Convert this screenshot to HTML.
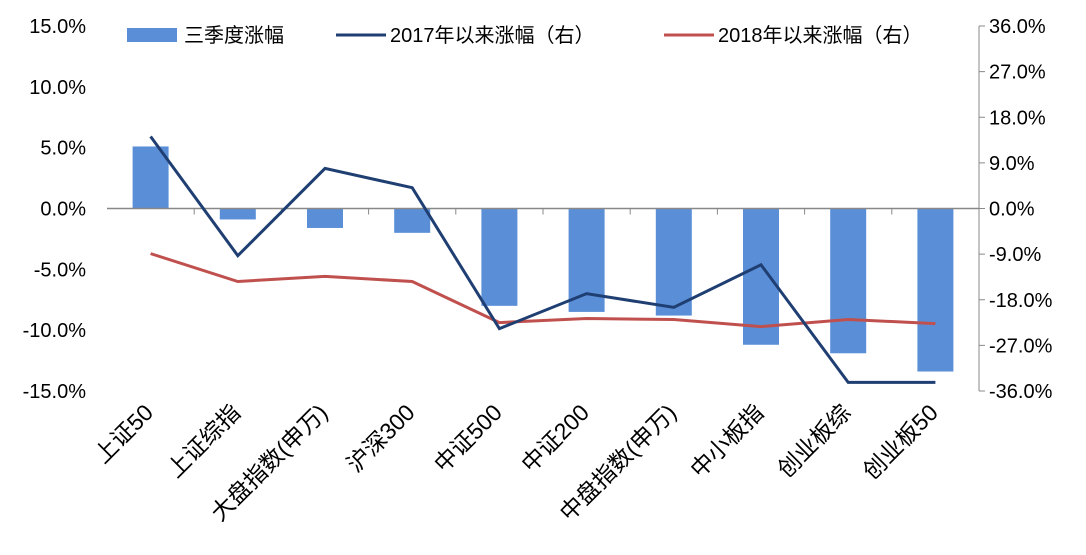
<!DOCTYPE html>
<html><head><meta charset="utf-8"><style>
body{margin:0;background:#fff;}
svg{display:block;font-family:"Liberation Sans","Noto Sans CJK SC",sans-serif;}
</style></head><body>
<svg id="chart" width="1086" height="555"></svg>
<script>
const categories=["上证50","上证综指","大盘指数(申万)","沪深300","中证500","中证200","中盘指数(申万)","中小板指","创业板综","创业板50"];
const q3Values=[5.1,-0.9,-1.6,-2.0,-8.0,-8.5,-8.8,-11.2,-11.9,-13.4];
const since2017=[14.2,-9.3,7.9,4.1,-23.7,-16.8,-19.5,-11.1,-34.3,-34.3];
const since2018=[-8.9,-14.4,-13.4,-14.4,-22.5,-21.7,-21.9,-23.3,-21.9,-22.7];
const leftTicks=[15,10,5,0,-5,-10,-15];
const rightTicks=[36,27,18,9,0,-9,-18,-27,-36];
const NS="http://www.w3.org/2000/svg";
const svg=document.getElementById('chart');
const x0=107,x1=979,yTop=26,yBot=391;
const yL=v=>yTop+(15-v)/30*(yBot-yTop);
const yR=v=>yTop+(36-v)/72*(yBot-yTop);
const step=(x1-x0)/categories.length;
const xC=i=>x0+step*(i+0.5);
function mk(tag,attrs,parent){const e=document.createElementNS(NS,tag);for(const k in attrs)e.setAttribute(k,attrs[k]);(parent||svg).appendChild(e);return e;}
q3Values.forEach((v,i)=>{const y=Math.min(yL(v),yL(0));const b=mk('rect',{x:xC(i)-18,y:y,width:36,height:Math.abs(yL(v)-yL(0)),fill:'#5a8fd8'});

});
const ax=mk('line',{x1:x0,x2:x1,y1:yL(0),y2:yL(0),stroke:'#888','stroke-width':1.5});


categories.forEach((c,i)=>{if(i>0){mk('line',{x1:x0+step*i,x2:x0+step*i,y1:yL(0),y2:yL(0)+6,stroke:'#888'});}});
const ra=mk('line',{x1:x1,x2:x1,y1:yTop,y2:yBot,stroke:'#888'});


rightTicks.forEach(t=>{mk('line',{x1:x1,x2:x1+6,y1:yR(t),y2:yR(t),stroke:'#888'});
const tx=mk('text',{x:x1+10,y:yR(t)+7,'font-size':20,fill:'#000'});tx.textContent=t.toFixed(1)+'%';

});
leftTicks.forEach(t=>{const tx=mk('text',{x:86,y:yL(t)+7,'font-size':20,'text-anchor':'end',fill:'#000'});tx.textContent=t.toFixed(1)+'%';

});
function line(arr,color,name){const l=mk('polyline',{points:arr.map((v,i)=>xC(i)+','+yR(v)).join(' '),fill:'none',stroke:color,'stroke-width':3});

}
line(since2018,'#c0504d','line-since-2018');
line(since2017,'#1f3f73','line-since-2017');
categories.forEach((c,i)=>{const tx=mk('text',{x:0,y:0,'font-size':23,'text-anchor':'end',fill:'#000'});
tx.setAttribute('transform',`translate(${xC(i)+4},414) rotate(-45)`);tx.textContent=c;

});
const lg=mk('g',{});


mk('rect',{x:127,y:28,width:50,height:14,fill:'#5a8fd8'},lg);
let t=mk('text',{x:184,y:42,'font-size':20},lg);t.textContent='三季度涨幅';
mk('line',{x1:336,x2:386,y1:35,y2:35,stroke:'#1f3f73','stroke-width':3},lg);
t=mk('text',{x:390,y:42,'font-size':20},lg);t.textContent='2017年以来涨幅（右）';
mk('line',{x1:664,x2:714,y1:35,y2:35,stroke:'#c0504d','stroke-width':3},lg);
t=mk('text',{x:718,y:42,'font-size':20},lg);t.textContent='2018年以来涨幅（右）';
</script>
</body></html>
